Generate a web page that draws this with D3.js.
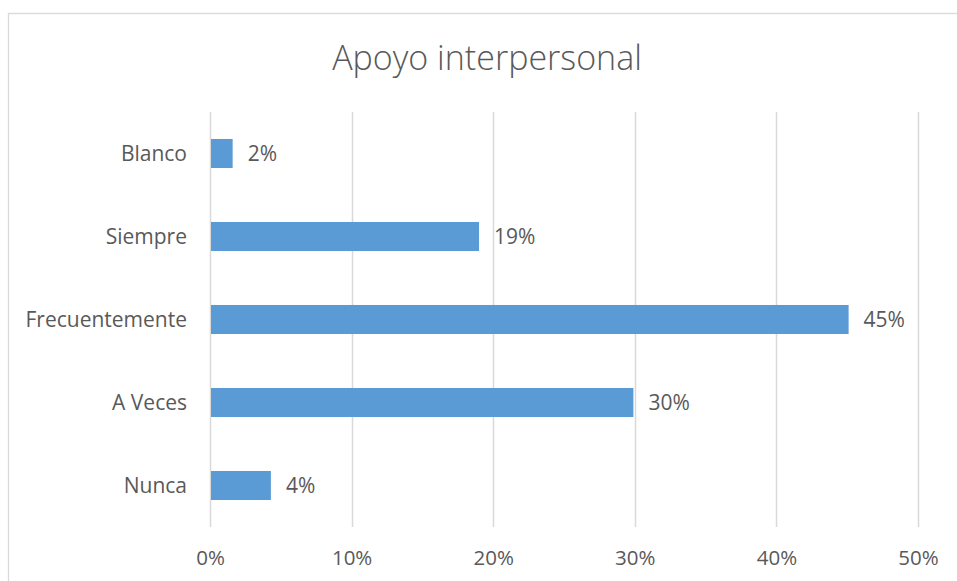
<!DOCTYPE html>
<html>
<head>
<meta charset="utf-8">
<script src="https://cdn.jsdelivr.net/npm/d3@7"></script>
<style>
  html, body { margin: 0; padding: 0; background: #fff; }
  svg { display: block; }
  text { font-family: "Open Sans", sans-serif; fill: #595959; }
</style>
</head>
<body>
<svg id="chart" width="957" height="581"></svg>
<script>
// Survey responses, top to bottom
const categories = ["Blanco", "Siempre", "Frecuentemente", "A Veces", "Nunca"];
const values = [0.016, 0.190, 0.451, 0.299, 0.043];
const tickValues = [0, 0.1, 0.2, 0.3, 0.4, 0.5];
const title = "Apoyo interpersonal";

const W = 957, H = 581;
const plot = { left: 210, right: 918, top: 112, bottom: 527 };
const labelFont = "21px";

const svg = d3.select("#chart");

// chart frame
svg.append("rect")
  .attr("x", 8.5).attr("y", 13.5)
  .attr("width", W + 10).attr("height", H + 10)
  .attr("fill", "none").attr("stroke", "#d9d9d9").attr("stroke-width", 1.3);

const x = d3.scaleLinear().domain([0, 0.5]).range([plot.left, plot.right]);
const y = d3.scaleBand().domain(categories).range([plot.top, plot.bottom])
  .paddingInner(0.65).paddingOuter(0.325);

// vertical gridlines
svg.append("g").selectAll("line").data(tickValues).join("line")
  .attr("x1", d => Math.round(x(d)) + 0.5).attr("x2", d => Math.round(x(d)) + 0.5)
  .attr("y1", plot.top).attr("y2", plot.bottom)
  .attr("stroke", "#d9d9d9").attr("stroke-width", 1.5);

// x axis labels
const xAxis = d3.axisBottom(x).tickValues(tickValues).tickFormat(d3.format(".0%")).tickSize(0).tickPadding(0);
const gx = svg.append("g").attr("transform", `translate(0,${plot.bottom})`).call(xAxis);
gx.select(".domain").remove();
gx.selectAll("text").attr("dy", null).attr("y", 38)
  .style("font-size", "20.5px").style("font-family", "'Open Sans', sans-serif").attr("fill", "#595959");

// y axis labels
const yAxis = d3.axisLeft(y).tickSize(0).tickPadding(23);
const gy = svg.append("g").attr("transform", `translate(${plot.left},0)`).call(yAxis);
gy.select(".domain").remove();
gy.selectAll("text").attr("dy", "0.35em")
  .style("font-size", labelFont).style("font-family", "'Open Sans', sans-serif").attr("fill", "#595959");

const rows = categories.map((c, i) => ({ c, v: values[i] }));

// bars
svg.append("g").selectAll("rect").data(rows).join("rect")
  .attr("x", x(0) + 1)
  .attr("y", d => y(d.c))
  .attr("width", d => x(d.v) - x(0) - 1)
  .attr("height", y.bandwidth())
  .attr("fill", "#5b9bd5");

// value labels
svg.append("g").selectAll("text").data(rows).join("text")
  .attr("x", d => x(d.v) + 15)
  .attr("y", d => y(d.c) + y.bandwidth() / 2)
  .attr("dy", "0.35em")
  .style("font-size", labelFont)
  .text(d => d3.format(".0%")(d.v));

// title
svg.append("text")
  .attr("x", 487).attr("y", 70)
  .attr("text-anchor", "middle")
  .style("font-size", "34px")
  .style("font-weight", 300)
  .text(title);
</script>
</body>
</html>
